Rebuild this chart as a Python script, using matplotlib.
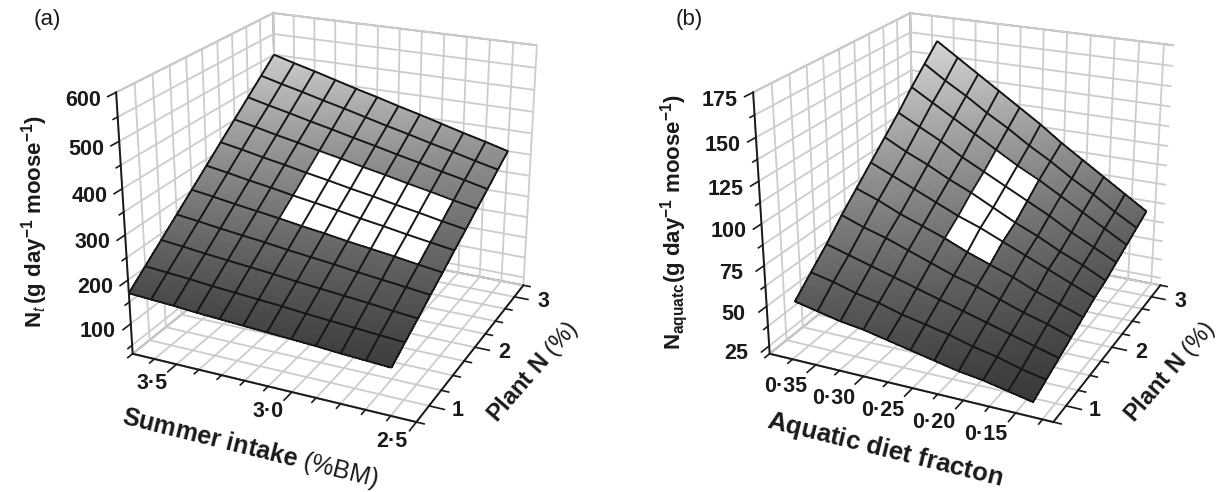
import matplotlib
matplotlib.use('Agg')
import matplotlib.pyplot as plt
import numpy as np
from mpl_toolkits.mplot3d import proj3d

plt.rcParams['font.family'] = ['Liberation Sans', 'DejaVu Sans']
plt.rcParams['mathtext.fontset'] = 'custom'
plt.rcParams['mathtext.rm'] = 'Liberation Sans'
plt.rcParams['mathtext.bf'] = 'Liberation Sans:bold'
plt.rcParams['mathtext.it'] = 'Liberation Sans:italic'

plant_n = [0.75, 1.0, 1.25, 1.5, 1.75, 2.0, 2.25, 2.5, 2.75, 3.0, 3.25]
plant_ticks = plant_n
plant_labels = ['', '1', '', '', '', '2', '', '', '', '3', '']

# panel a
intake = [3.7, 3.6, 3.5, 3.4, 3.3, 3.2, 3.1, 3.0, 2.9, 2.8, 2.7, 2.6]
intake_ticks = [3.7, 3.6, 3.5, 3.4, 3.3, 3.2, 3.1, 3.0, 2.9, 2.8, 2.7, 2.6, 2.5]
intake_labels = ['', '', '3·5', '', '', '', '', '3·0', '', '', '', '', '2·5']
nt_ticks = [50, 100, 150, 200, 250, 300, 350, 400, 450, 500, 550, 600]
nt_labels = ['', '100', '', '200', '', '300', '', '400', '', '500', '', '600']
nt = [[170, 167, 164, 160, 157, 154, 151, 148, 145, 141, 138, 135],
      [203, 199, 195, 190, 186, 182, 178, 173, 169, 165, 161, 157],
      [236, 231, 225, 220, 215, 210, 204, 199, 194, 189, 183, 178],
      [269, 263, 256, 250, 244, 237, 231, 225, 218, 212, 206, 200],
      [302, 295, 287, 280, 273, 265, 258, 250, 243, 236, 228, 221],
      [335, 327, 318, 310, 301, 293, 285, 276, 268, 259, 251, 243],
      [368, 359, 349, 340, 330, 321, 311, 302, 292, 283, 273, 264],
      [401, 391, 380, 370, 359, 349, 338, 328, 317, 307, 296, 286],
      [434, 422, 411, 399, 388, 376, 365, 353, 342, 330, 319, 307],
      [467, 454, 442, 429, 417, 404, 391, 379, 366, 354, 341, 329],
      [500, 486, 473, 459, 445, 432, 418, 405, 391, 377, 364, 350]]

# panel b
fraction = [0.369, 0.3455, 0.322, 0.2985, 0.275, 0.2515, 0.228, 0.2045, 0.181, 0.1575, 0.134]
fraction_ticks = [0.40, 0.375, 0.35, 0.325, 0.30, 0.275, 0.25, 0.225, 0.20, 0.175, 0.15, 0.125]
fraction_labels = ['', '', '0·35', '', '0·30', '', '0·25', '', '0·20', '', '0·15', '']
naq_ticks = [25, 37.5, 50, 62.5, 75, 87.5, 100, 112.5, 125, 137.5, 150, 162.5, 175]
naq_labels = ['25', '', '50', '', '75', '', '100', '', '125', '', '150', '', '175']
naq = [[57, 54, 51, 49, 46, 43, 40, 37, 35, 32, 29],
       [67, 64, 60, 57, 53, 50, 47, 43, 40, 36, 33],
       [77, 73, 69, 65, 61, 57, 53, 49, 45, 41, 37],
       [88, 83, 79, 74, 69, 64, 60, 55, 50, 46, 41],
       [98, 93, 87, 82, 77, 71, 66, 61, 55, 50, 45],
       [108, 102, 96, 90, 84, 79, 73, 67, 61, 55, 49],
       [118, 111, 105, 98, 92, 85, 78, 72, 65, 59, 52],
       [128, 121, 114, 106, 99, 92, 85, 78, 70, 63, 56],
       [139, 131, 123, 115, 107, 99, 92, 84, 76, 68, 60],
       [149, 140, 132, 123, 115, 106, 98, 89, 81, 72, 64],
       [159, 150, 141, 132, 123, 114, 104, 95, 86, 77, 68]]


def fine(a, n=5):
    # split every cell so the grey can run smoothly inside it
    a = np.asarray(a, float)
    r = np.linspace(0, a.shape[0] - 1, (a.shape[0] - 1) * n + 1)
    c = np.linspace(0, a.shape[1] - 1, (a.shape[1] - 1) * n + 1)
    a = np.array([np.interp(c, np.arange(a.shape[1]), row) for row in a])
    a = np.array([np.interp(r, np.arange(a.shape[0]), col) for col in a.T]).T
    return a


def panel(left, xs, ys, zs, xlim, zlim, xt, xl, zt, zl, white, grey_lo, grey_hi, x_off):
    S = 495
    ax = fig.add_axes([(left - S / 2) / W, (288 - S / 2) / H, S / W, S / H], projection='3d', computed_zorder=False)
    ax.patch.set_visible(False)
    ax.view_init(elev=22.3, azim=-65)
    ax.set_proj_type('persp', focal_length=0.52)
    ax.set_box_aspect((0.97, 1, 0.87))
    ax.set_xlim(*xlim)
    ax.set_ylim(0.75, 3.25)
    ax.set_zlim(*zlim)

    X, Y = np.meshgrid(xs, ys)
    Z = np.array(zs, float)
    n = 5
    Xf, Yf, Zf = fine(X, n), fine(Y, n), fine(Z, n)
    mid = (Zf[:-1, :-1] + Zf[1:, 1:]) / 2
    g = grey_lo + (mid - Z.min()) / (Z.max() - Z.min()) * (grey_hi - grey_lo)
    cols = np.dstack([g, g, g, np.ones_like(g)])
    r0, r1, c0, c1 = white
    cols[r0 * n:r1 * n, c0 * n:c1 * n] = (1, 1, 1, 1)
    ax.plot_surface(Xf, Yf, Zf, facecolors=cols, rstride=1, cstride=1, shade=False,
                    linewidth=0.4, antialiased=False, zorder=2)
    ax.plot_wireframe(X, Y, Z, color='#161616', linewidth=1.4, zorder=3)

    ax.set_xticks(xt, [''] * len(xt))
    ax.set_yticks(plant_ticks, [''] * len(plant_ticks))
    ax.set_zticks(zt, [''] * len(zt))
    ax.zaxis.set_ticks_position('lower')
    for a in (ax.xaxis, ax.yaxis, ax.zaxis):
        a.pane.set_facecolor('white')
        a.pane.set_edgecolor('#2a2a2a')
        a.pane.set_linewidth(1.3)
        a._axinfo['grid'].update(color='#cccccc', linewidth=1.3)
        a._axinfo['tick'].update(inward_factor=0.0, outward_factor=0.0)
        a.line.set_linewidth(1.4)
        a.line.set_color('#1a1a1a')

    def mark(x0, x1, y0, y1, z0, z1, label, off):
        ax.plot([x0, x1], [y0, y1], [z0, z1], color='#1a1a1a', linewidth=1.2, zorder=1)
        if label:
            xp, yp, _ = proj3d.proj_transform(x0, y0, z0, ax.get_proj())
            ax.annotate(label, xy=(xp, yp), xytext=off, textcoords='offset pixels', ha='center', va='center',
                        fontsize=15.5, fontweight='bold', color='#1a1a1a', annotation_clip=False)

    dx = xlim[1] - xlim[0]
    for t, s in zip(xt, xl):
        mark(t, t, 0.75, 0.75 - (0.13 if s else 0.07), zlim[0], zlim[0], s, x_off)
    for t, s in zip(plant_ticks, plant_labels):
        mark(xlim[1], xlim[1] + dx * (0.05 if s else 0.025), t, t, zlim[0], zlim[0], s, (29, -5))
    for t, s in zip(zt, zl):
        mark(xlim[0], xlim[0], 0.75, 0.75 - (0.11 if s else 0.06), t, t, s, (-33, -8))
    return ax


W, H = 1221, 492
fig = plt.figure(figsize=(W / 100, H / 100), dpi=100, facecolor='white')

panel(331, intake, plant_n, nt, (3.7, 2.5), (30, 600), intake_ticks, intake_labels, nt_ticks, nt_labels,
      (4, 7, 4, 10), 0.24, 0.80, (-24, -19))
panel(968, fraction, plant_n, naq, (0.40, 0.115), (20, 175), fraction_ticks, fraction_labels, naq_ticks, naq_labels,
      (4, 8, 4, 6), 0.22, 0.84, (-30, -22))


def txt(x, y, s, **kw):
    fig.text(x / W, 1 - y / H, s, ha='center', va='center', color='#1a1a1a', **kw)


txt(47, 20, '(a)', fontsize=16)
txt(689, 20, '(b)', fontsize=16)
txt(35, 221, r'$\mathbf{N}_{\mathit{t}}\,$$\mathbf{(g\ day^{-1}\ moose^{-1})}$', fontsize=16, rotation=90)
txt(674, 222, r'$\mathbf{N}_{\mathbf{aquatc}}$$\mathbf{(g\ day^{-1}\ moose^{-1})}$', fontsize=16, rotation=90)
txt(250, 448, r'$\mathbf{Summer\ intake}$ (%BM)', fontsize=18, rotation=-14)
txt(885, 450, r'$\mathbf{Aquatic\ diet\ fracton}$', fontsize=18.5, rotation=-14)
txt(533, 372, r'$\mathbf{Plant\ N}$ (%)', fontsize=17, rotation=49)
txt(1170, 372, r'$\mathbf{Plant\ N}$ (%)', fontsize=17, rotation=49)

fig.savefig('out.png', dpi=100)
